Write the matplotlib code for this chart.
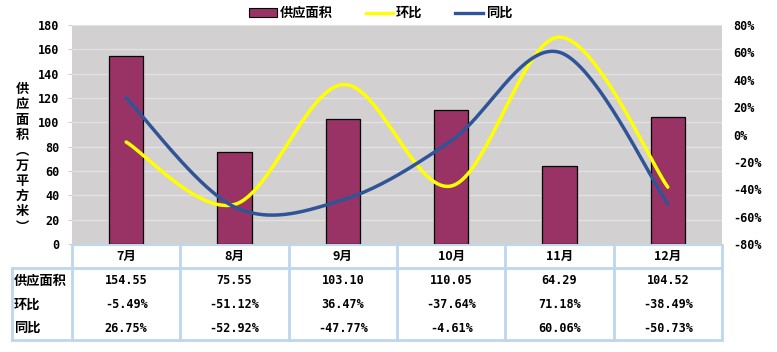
import numpy as np
import matplotlib
matplotlib.use('Agg')
import matplotlib.pyplot as plt
from matplotlib.transforms import blended_transform_factory
from matplotlib.lines import Line2D
from matplotlib.patches import Patch

plt.rcParams['font.family'] = ['Noto Sans CJK SC', 'DejaVu Sans']
plt.rcParams['font.weight'] = 'bold'

months = ['7月', '8月', '9月', '10月', '11月', '12月']
supply = [154.55, 75.55, 103.10, 110.05, 64.29, 104.52]
hb = [-5.49, -51.12, 36.47, -37.64, 71.18, -38.49]   # 环比 %
tb = [26.75, -52.92, -47.77, -4.61, 60.06, -50.73]  # 同比 %
row_names = ['供应面积', '环比', '同比']
left_ticks = [0, 20, 40, 60, 80, 100, 120, 140, 160, 180]
right_ticks = [-80, -60, -40, -20, 0, 20, 40, 60, 80]

bar_c = '#993366'
yel = '#FFFF00'
blu = '#2F5597'
grid_c = '#E2E2E2'
bg = '#D3D0D1'
tbl_c = '#BDD7EE'
mono = 'DejaVu Sans Mono'


def smooth(x, y, n=40):
    # excel-like smoothed line (catmull-rom bezier)
    x = np.asarray(x, float)
    y = np.asarray(y, float)
    px, py = [], []
    for i in range(len(x) - 1):
        x0, y0 = (x[i - 1], y[i - 1]) if i > 0 else (x[i], y[i])
        x3, y3 = (x[i + 2], y[i + 2]) if i + 2 < len(x) else (x[i + 1], y[i + 1])
        c1x = x[i] + (x[i + 1] - x0) / 6
        c1y = y[i] + (y[i + 1] - y0) / 6
        c2x = x[i + 1] - (x3 - x[i]) / 6
        c2y = y[i + 1] - (y3 - y[i]) / 6
        t = np.linspace(0, 1, n)
        px.extend((1-t)**3*x[i] + 3*(1-t)**2*t*c1x + 3*(1-t)*t**2*c2x + t**3*x[i+1])
        py.extend((1-t)**3*y[i] + 3*(1-t)**2*t*c1y + 3*(1-t)*t**2*c2y + t**3*y[i+1])
    return px, py


fig = plt.figure(figsize=(7.77, 3.52), dpi=100)
ax = fig.add_axes([72/777, 108/352, 650/777, 219/352])
ax.set_facecolor(bg)
xs = np.arange(len(months))
ax.bar(xs, supply, width=0.315, color=bar_c, edgecolor='black', linewidth=0.9, zorder=3)
ax.set_xlim(-0.5, 5.5)
ax.set_ylim(0, 180)
ax.set_yticks(left_ticks)
ax.set_yticklabels([str(v) for v in left_ticks], fontsize=8.5, fontweight='bold', family=mono)
ax.tick_params(axis='y', length=3, color='#D0D0D0', pad=6)
ax.set_xticks([])
for v in left_ticks[1:]:
    ax.axhline(v, color=grid_c, lw=0.9, zorder=1)
for s in ax.spines.values():
    s.set_visible(False)

ax2 = ax.twinx()
ax2.set_ylim(-80, 80)
ax2.set_yticks(right_ticks)
ax2.set_yticklabels([f'{v}%' for v in right_ticks], fontsize=8.5, fontweight='bold', family=mono)
ax2.tick_params(axis='y', length=0, pad=8)
for s in ax2.spines.values():
    s.set_visible(False)
hx, hy = smooth(xs, hb)
tx, ty = smooth(xs, tb)
ax2.plot(hx, hy, color=yel, lw=2.5, solid_capstyle='round', zorder=4)
ax2.plot(tx, ty, color=blu, lw=2.5, solid_capstyle='round', zorder=5)

# y label, stacked vertically
ylab = '供应面积︵万平方米︶'
for i, ch in enumerate(ylab):
    fig.text(22/777, 1 - (89 + i*15.3)/352, ch, fontsize=9.5, fontweight='bold',
             ha='center', va='center')

# legend
handles = [Patch(facecolor=bar_c, edgecolor='black', linewidth=0.8),
           Line2D([], [], color=yel, lw=2.4), Line2D([], [], color=blu, lw=2.4)]
fig.legend(handles, ['供应面积', '环比', '同比'], loc='center', bbox_to_anchor=(0.49, 1 - 13/352),
           ncol=3, frameon=False, handlelength=2.1, handleheight=0.6,
           columnspacing=2.5, handletextpad=0.2, prop={'weight': 'bold', 'size': 9.5})

# data table
tr = blended_transform_factory(ax.transData, fig.transFigure)
fy = lambda p: 1 - p/352
y_head, y_mid, y_bot = 245, 268, 340
for b in np.arange(-0.5, 6.0, 1.0):
    ax.plot([b, b], [fy(y_head), fy(y_bot)], transform=tr, color=tbl_c, lw=2.0, clip_on=False)
ax.plot([-0.5, 5.5], [fy(y_head), fy(y_head)], transform=tr, color=tbl_c, lw=1.5, clip_on=False)
ax.plot([-0.5, 5.5], [fy(y_mid), fy(y_mid)], transform=tr, color=tbl_c, lw=2.0, clip_on=False)
ax.plot([-0.5, 5.5], [fy(y_bot), fy(y_bot)], transform=tr, color=tbl_c, lw=2.0, clip_on=False)
fig.add_artist(Line2D([12/777, 72/777], [fy(y_mid), fy(y_mid)], color=tbl_c, lw=2.0))
fig.add_artist(Line2D([12/777, 72/777], [fy(y_bot), fy(y_bot)], color=tbl_c, lw=2.0))
fig.add_artist(Line2D([12/777, 12/777], [fy(y_mid), fy(y_bot)], color=tbl_c, lw=2.0))

for i, m in enumerate(months):
    ax.text(i, fy(256), m, transform=tr, ha='center', va='center', fontsize=9, fontweight='bold')
rows = [[f'{v:.2f}' for v in supply], [f'{v:.2f}%' for v in hb], [f'{v:.2f}%' for v in tb]]
row_y = [281, 305, 328]
for name, vals, yy in zip(row_names, rows, row_y):
    fig.text(14/777, fy(yy), name, ha='left', va='center', fontsize=9.5, fontweight='bold')
    for i, v in enumerate(vals):
        ax.text(i, fy(yy), v, transform=tr, ha='center', va='center',
                fontsize=8.5, fontweight='bold', family=mono)

fig.savefig('out.png', dpi=100)
